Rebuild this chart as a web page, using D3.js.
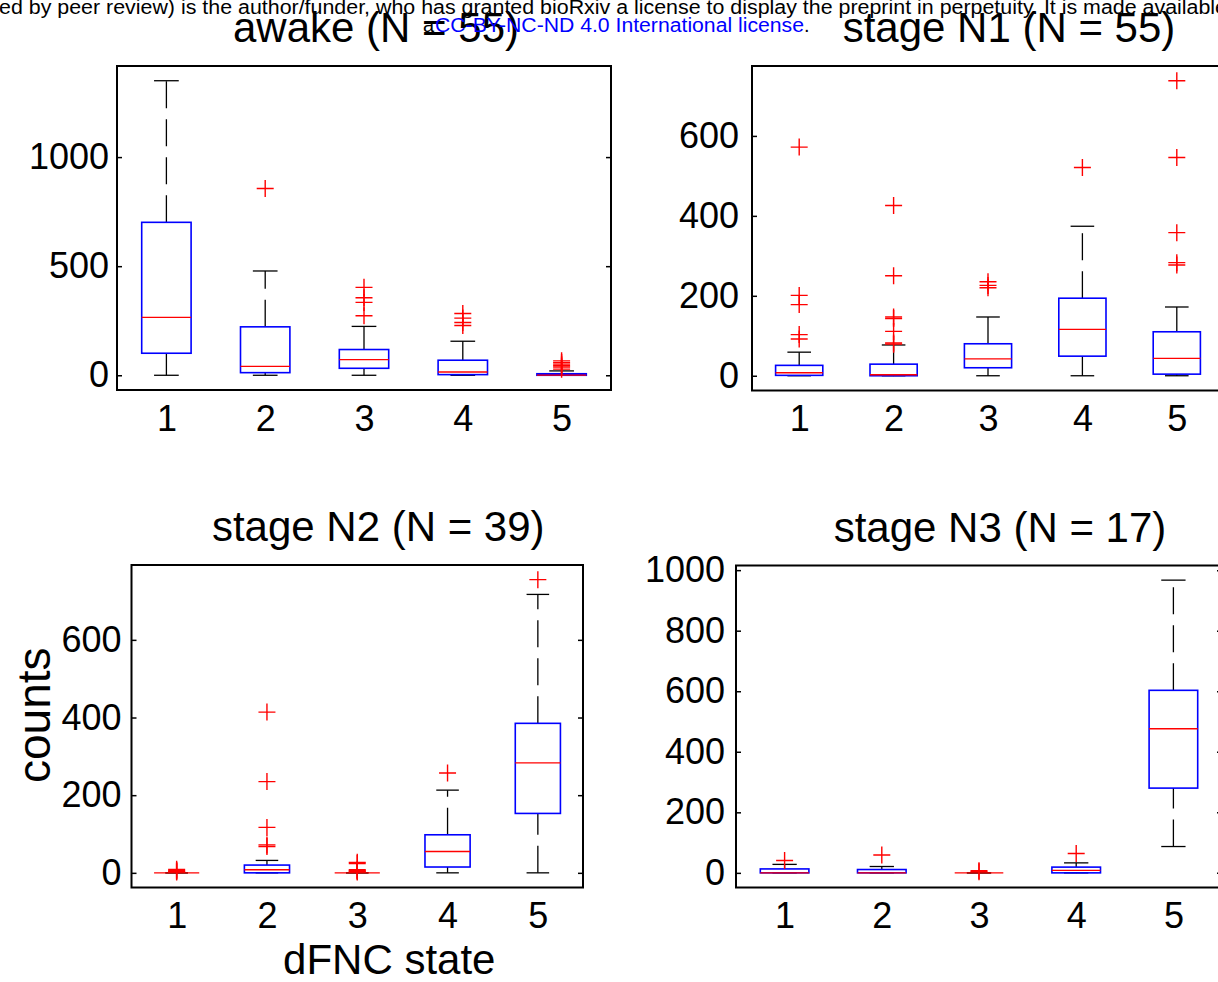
<!DOCTYPE html>
<html>
<head>
<meta charset="utf-8">
<script src="https://cdn.jsdelivr.net/npm/d3@7"></script>
<style>
  html, body { margin: 0; padding: 0; background: #fff; overflow: hidden; }
  svg { display: block; font-family: "Liberation Sans", Arial, Helvetica, sans-serif; }
</style>
</head>
<body>
<svg id="fig" width="1218" height="982"></svg>
<script>
// dFNC states on the x axis
const states = [1, 2, 3, 4, 5];

// awake (N = 55): per-state box statistics and outliers
const awakeLow = [0, 0, 0, 0, 0];
const awakeQ1 = [101, 12, 32, 3, 0];
const awakeMedian = [265, 41, 72, 15, 1];
const awakeQ3 = [701, 222, 118, 69, 7];
const awakeHigh = [1350, 478, 224, 156, 20];
const awakeOutliers = [[], [856], [403, 355, 334, 273], [283, 262, 242, 228], [66, 58, 51, 44, 38, 28]];
const awakeTicks = [0, 500, 1000];

// stage N1 (N = 55)
const n1Low = [0, 0, 0, 0, 0];
const n1Q1 = [1, 0, 20, 49, 4];
const n1Median = [7.5, 2.5, 42, 116, 43.5];
const n1Q3 = [26, 29, 80, 194, 110];
const n1High = [59, 77, 147, 374, 172];
const n1Outliers = [[572, 201, 178, 103, 92], [426, 250, 147, 143, 111, 82, 79], [235, 226, 220], [521], [738, 546, 358, 283, 277]];
const n1Ticks = [0, 200, 400, 600];

// stage N2 (N = 39)
const n2Low = [0, 0, 0, 0, 0];
const n2Q1 = [0, 0, 0, 15, 153];
const n2Median = [0, 8, 0, 55, 283];
const n2Q3 = [0, 20, 0, 98, 385];
const n2High = [0, 32, 0, 213, 717];
const n2Outliers = [[9, 6, 4, 2], [414, 235, 117, 72, 68], [27, 24, 8, 6, 4, 2], [257], [755]];
const n2Ticks = [0, 200, 400, 600];

// stage N3 (N = 17)
const n3Low = [0, 0, 0, 0, 87];
const n3Q1 = [0, 0, 0, 0, 280];
const n3Median = [0, 0, 0, 8, 476];
const n3Q3 = [13, 11, 0, 19, 603];
const n3High = [28, 21, 0, 33, 967];
const n3Outliers = [[41], [59], [7, 4], [64], []];
const n3Ticks = [0, 200, 400, 600, 800, 1000];

const titles = ["awake (N = 55)", "stage N1 (N = 55)", "stage N2 (N = 39)", "stage N3 (N = 17)"];

const panels = [
  { title: titles[0], lo: awakeLow, q1: awakeQ1, med: awakeMedian, q3: awakeQ3, hi: awakeHigh, out: awakeOutliers, ticks: awakeTicks },
  { title: titles[1], lo: n1Low, q1: n1Q1, med: n1Median, q3: n1Q3, hi: n1High, out: n1Outliers, ticks: n1Ticks },
  { title: titles[2], lo: n2Low, q1: n2Q1, med: n2Median, q3: n2Q3, hi: n2High, out: n2Outliers, ticks: n2Ticks },
  { title: titles[3], lo: n3Low, q1: n3Q1, med: n3Median, q3: n3Q3, hi: n3High, out: n3Outliers, ticks: n3Ticks }
];

// axes rectangles of the 2x2 subplot grid
const frames = [
  { left: 117, right: 611, top: 66, bottom: 390, titleDx: 12, labelGap: 8 },
  { left: 752, right: 1224, top: 66, bottom: 390.5, titleDx: 21, labelGap: 13 },
  { left: 131.5, right: 583, top: 565, bottom: 887.5, titleDx: 21, labelGap: 10 },
  { left: 736, right: 1222, top: 565.5, bottom: 887.5, titleDx: 21, labelGap: 11 }
];

const svg = d3.select("#fig");
svg.append("rect").attr("width", 1218).attr("height", 982).attr("fill", "#fff");

const BLUE = "#0000ff", RED = "#ff0000";

panels.forEach((p, i) => {
  const f = frames[i];
  const g = svg.append("g");

  const allVals = p.lo.concat(p.hi, p.out.flat());
  const vmin = d3.min(allVals), vmax = d3.max(allVals);
  const pad = 0.05 * (vmax - vmin);

  const x = d3.scaleLinear().domain([0.5, 5.5]).range([f.left, f.right]);
  const y = d3.scaleLinear().domain([vmin - pad, vmax + pad]).range([f.bottom, f.top]);

  const boxHalf = x(1.25) - x(1);   // box width 0.5
  const capHalf = x(1.125) - x(1);  // cap width 0.25

  // y ticks, inward, on both sides
  const yl = g.append("g").attr("transform", `translate(${f.left},0)`)
    .call(d3.axisLeft(y).tickValues(p.ticks).tickSize(-5).tickPadding(f.labelGap).tickFormat(d3.format("d")));
  yl.select(".domain").remove();
  yl.selectAll("line").attr("stroke", "#000").attr("stroke-width", 1.5);
  yl.selectAll("text").attr("font-size", 36).attr("fill", "#000").attr("font-family", null);

  const yr = g.append("g").attr("transform", `translate(${f.right},0)`)
    .call(d3.axisRight(y).tickValues(p.ticks).tickSize(-5).tickFormat(""));
  yr.select(".domain").remove();
  yr.selectAll("line").attr("stroke", "#000").attr("stroke-width", 1.5);

  // x tick labels
  const xa = g.append("g").attr("transform", `translate(0,${f.bottom})`)
    .call(d3.axisBottom(x).tickValues(states).tickSize(0).tickPadding(15).tickFormat(d3.format("d")));
  xa.select(".domain").remove();
  xa.selectAll("text").attr("font-size", 36).attr("fill", "#000").attr("font-family", null);

  const rows = states.map((s, k) => ({
    s, lo: p.lo[k], q1: p.q1[k], med: p.med[k], q3: p.q3[k], hi: p.hi[k], out: p.out[k]
  }));

  const bx = g.selectAll("g.box").data(rows).join("g").attr("class", "box");

  // whiskers, dashed, drawn from the lower value upward
  bx.append("line")
    .attr("x1", d => x(d.s)).attr("x2", d => x(d.s))
    .attr("y1", d => y(d.q3)).attr("y2", d => y(d.hi))
    .attr("stroke", "#000").attr("stroke-width", 1.3).attr("stroke-dasharray", "27 11");
  bx.append("line")
    .attr("x1", d => x(d.s)).attr("x2", d => x(d.s))
    .attr("y1", d => y(d.lo)).attr("y2", d => y(d.q1))
    .attr("stroke", "#000").attr("stroke-width", 1.3).attr("stroke-dasharray", "27 11");

  // whisker caps
  ["lo", "hi"].forEach(key => {
    bx.append("line")
      .attr("x1", d => x(d.s) - capHalf).attr("x2", d => x(d.s) + capHalf)
      .attr("y1", d => y(d[key])).attr("y2", d => y(d[key]))
      .attr("stroke", "#000").attr("stroke-width", 1.3);
  });

  // interquartile box
  bx.append("rect")
    .attr("x", d => x(d.s) - boxHalf).attr("width", 2 * boxHalf)
    .attr("y", d => y(d.q3)).attr("height", d => Math.max(0, y(d.q1) - y(d.q3)))
    .attr("fill", "none").attr("stroke", BLUE).attr("stroke-width", 1.6);

  // median
  bx.append("line")
    .attr("x1", d => x(d.s) - boxHalf).attr("x2", d => x(d.s) + boxHalf)
    .attr("y1", d => y(d.med)).attr("y2", d => y(d.med))
    .attr("stroke", RED).attr("stroke-width", 1.3);

  // outliers as '+' markers
  bx.selectAll("path.out").data(d => d.out.map(v => ({ s: d.s, v })))
    .join("path").attr("class", "out")
    .attr("transform", d => `translate(${x(d.s)},${y(d.v)})`)
    .attr("d", "M-8.5,0H8.5M0,-8.5V8.5")
    .attr("stroke", RED).attr("stroke-width", 1.4).attr("fill", "none");

  // axes frame
  g.append("rect")
    .attr("x", f.left).attr("y", f.top)
    .attr("width", f.right - f.left).attr("height", f.bottom - f.top)
    .attr("fill", "none").attr("stroke", "#000").attr("stroke-width", 2);

  // title
  svg.append("text")
    .attr("x", (f.left + f.right) / 2 + f.titleDx).attr("y", f.top - 24)
    .attr("text-anchor", "middle").attr("font-size", 42).attr("fill", "#000")
    .text(p.title);
});

// shared axis labels on the lower-left subplot
const fl = frames[2];
svg.append("text")
  .attr("x", (fl.left + fl.right) / 2 + 32).attr("y", fl.bottom + 86)
  .attr("text-anchor", "middle").attr("font-size", 42).attr("fill", "#000")
  .text("dFNC state");
svg.append("text")
  .attr("transform", `translate(${fl.left - 82},${(fl.top + fl.bottom) / 2 - 11}) rotate(-90)`)
  .attr("text-anchor", "middle").attr("font-size", 46).attr("fill", "#000")
  .text("counts");

// preprint license banner across the top
svg.append("text")
  .attr("x", -1).attr("y", 14).attr("font-size", 20).attr("fill", "#000")
  .attr("textLength", 1228).attr("lengthAdjust", "spacingAndGlyphs")
  .text("ed by peer review) is the author/funder, who has granted bioRxiv a license to display the preprint in perpetuity. It is made available");
svg.append("text")
  .attr("x", 423).attr("y", 32).attr("font-size", 20).attr("fill", "#000")
  .text("a");
svg.append("text")
  .attr("x", 435).attr("y", 32).attr("font-size", 20).attr("fill", BLUE)
  .attr("textLength", 369).attr("lengthAdjust", "spacingAndGlyphs")
  .text("CC-BY-NC-ND 4.0 International license");
svg.append("text")
  .attr("x", 804).attr("y", 32).attr("font-size", 20).attr("fill", "#000")
  .text(".");
</script>
</body>
</html>
